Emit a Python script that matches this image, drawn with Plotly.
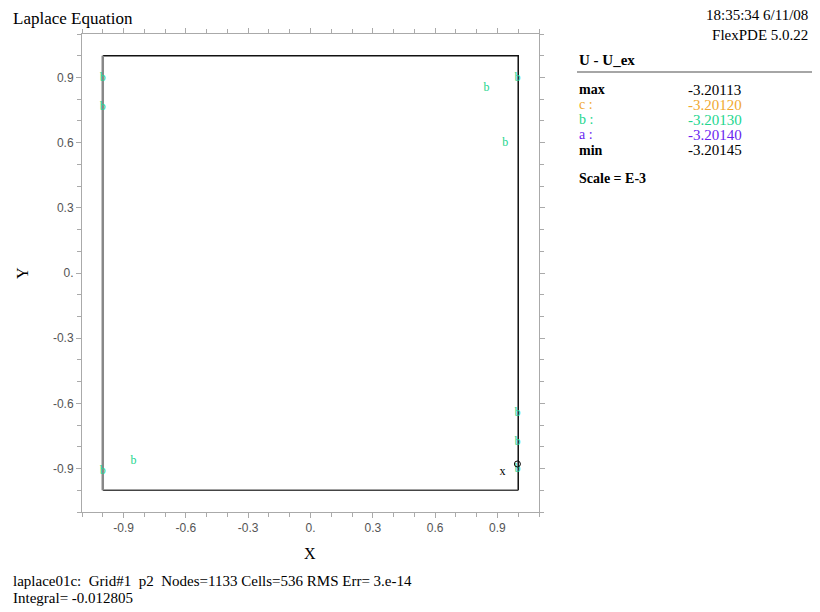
import plotly.graph_objects as go

# contour label positions ("b" level labels)
label_x = [-1.0, -1.0, 0.847, 0.996, 0.938, 0.996, 0.996, 0.996, -1.0, -0.852]
label_y = [0.898, 0.763, 0.851, 0.898, 0.597, -0.643, -0.777, -0.902, -0.911, -0.865]
label_text = ["b"] * len(label_x)

# extremum markers
max_x, max_y = [0.924], [-0.916]
min_x, min_y = [0.996], [-0.879]

# legend table
legend_names = ["max", "c :", "b :", "a :", "min"]
legend_values = ["-3.20113", "-3.20120", "-3.20130", "-3.20140", "-3.20145"]
legend_colors = ["#000000", "#f0a830", "#22d68e", "#6a1ff0", "#000000"]

tick_vals = [-0.9, -0.6, -0.3, 0.0, 0.3, 0.6, 0.9]
tick_text = ["-0.9", "-0.6", "-0.3", "0.", "0.3", "0.6", "0.9"]

OFF = 8  # default page body margin
W, H = 820 - OFF, 612 - OFF
L, R, T, B = 82 - OFF, 539 - OFF, 34 - OFF, 512 - OFF


def px(x):
    return (x - OFF - L) / (R - L)


def py(y):
    return (B - (y - OFF)) / (B - T)


fig = go.Figure()

# domain box
fig.add_trace(go.Scatter(x=[-1, 1, 1], y=[1, 1, -1], mode="lines",
                         line=dict(color="#111111", width=1.5), hoverinfo="skip", showlegend=False))
fig.add_trace(go.Scatter(x=[1, -1], y=[-1, -1], mode="lines",
                         line=dict(color="#444444", width=1.5), hoverinfo="skip", showlegend=False))
fig.add_trace(go.Scatter(x=[-1, -1], y=[-1, 1], mode="lines",
                         line=dict(color="#888888", width=2.5), hoverinfo="skip", showlegend=False))

fig.add_trace(go.Scatter(x=label_x, y=label_y, mode="text", text=label_text,
                         textfont=dict(family="Liberation Serif", size=12, color="#22d68e"),
                         showlegend=False))
fig.add_trace(go.Scatter(x=max_x, y=max_y, mode="text", text=["x"],
                         textfont=dict(family="Liberation Serif", size=12, color="#000000"),
                         showlegend=False))
fig.add_trace(go.Scatter(x=min_x, y=min_y, mode="markers",
                         marker=dict(symbol="circle-open", size=6, color="#000000", line=dict(width=1)),
                         showlegend=False))

axis_common = dict(
    range=[-1.1, 1.1], tickvals=tick_vals, ticktext=tick_text,
    showline=True, linecolor="#aaaaaa", linewidth=1, mirror="allticks",
    ticks="outside", ticklen=5, tickcolor="#aaaaaa",
    minor=dict(dtick=0.1, tick0=0, ticks="outside", ticklen=4, tickcolor="#aaaaaa"),
    showgrid=False, zeroline=False,
    tickfont=dict(family="Liberation Sans", size=12, color="#555555"),
)

fig.update_layout(
    width=W, height=H,
    margin=dict(l=L, r=W - R, t=T, b=H - B),
    paper_bgcolor="white", plot_bgcolor="white",
    xaxis=dict(**axis_common),
    yaxis=dict(**axis_common),
    showlegend=False,
)

serif = "Liberation Serif"
ann = []


def add_text(x, y, text, size=15, color="#000000", xanchor="left", textangle=0, align="left"):
    ann.append(dict(x=px(x), y=py(y), xref="paper", yref="paper", text=text, showarrow=False,
                    xanchor=xanchor, yanchor="middle", textangle=textangle, align=align,
                    font=dict(family=serif, size=size, color=color)))


add_text(11, 19, "Laplace Equation", size=17)
add_text(810, 25, "18:35:34 6/11/08<br>FlexPDE 5.0.22", size=15, xanchor="right", align="right")
add_text(22, 273, "Y", size=16, xanchor="center", textangle=-90)
add_text(310, 553, "X", size=16, xanchor="center")
add_text(11, 581, "laplace01c:  Grid#1  p2  Nodes=1133 Cells=536 RMS Err= 3.e-14", size=15)
add_text(11, 598, "Integral= -0.012805", size=15)

add_text(577, 60, "<b>U - U_ex</b>", size=15)
row_y = [90, 105, 120, 135, 150]
for name, val, col, yy in zip(legend_names, legend_values, legend_colors, row_y):
    add_text(577, yy, "<b>%s</b>" % name if col == "#000000" else name, size=14, color=col)
    add_text(686, yy, val, size=15, color=col)
add_text(577, 178, "<b>Scale = E-3</b>", size=14)

fig.update_layout(annotations=ann)
fig.add_shape(type="line", xref="paper", yref="paper", x0=px(577), x1=px(812), y0=py(72), y1=py(72),
              line=dict(color="#888888", width=1.5))

fig.write_html("out.html")
